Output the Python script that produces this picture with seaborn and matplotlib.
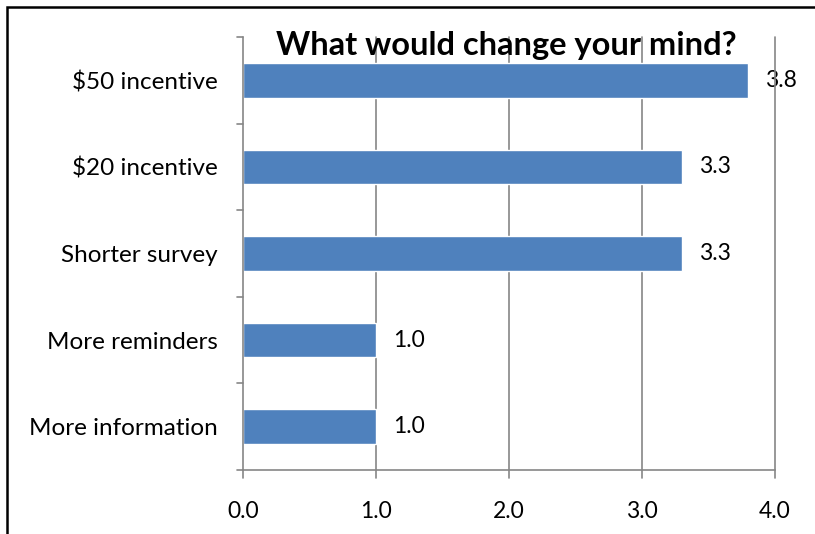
import matplotlib
matplotlib.use("Agg")
import matplotlib.pyplot as plt
import seaborn as sns
import pandas as pd
from matplotlib.patches import Rectangle

categories = ["$50 incentive", "$20 incentive", "Shorter survey", "More reminders", "More information"]
values = [3.8, 3.3, 3.3, 1.0, 1.0]
xticks = [0.0, 1.0, 2.0, 3.0, 4.0]
title = "What would change your mind?"

sns.set_style("white")
plt.rcParams['font.family'] = ['Lato', 'DejaVu Sans']
plt.rcParams['text.parse_math'] = False

df = pd.DataFrame({"cat": categories, "val": values})

fig = plt.figure(figsize=(8.15, 5.34), dpi=100)
ax = fig.add_axes([243/815, 64/534, (775-243)/815, (470-37)/534])

sns.barplot(data=df, x="val", y="cat", orient="h", color="#4F81BD",
            width=0.4, saturation=1, ax=ax, zorder=3)

axis_col = "#868686"
fs = 16.5
ax.set_xlim(0, 4)
ax.set_ylim(len(categories) - 0.5, -0.5)
ax.set_xticks(xticks)
ax.set_xticklabels([f"{t:.1f}" for t in xticks], fontsize=fs, color="black")
ax.set_yticks(range(len(categories)))
ax.set_yticklabels(categories, fontsize=17.5, color="black")
ax.tick_params(axis="y", length=0, pad=18)
ax.tick_params(axis="x", length=0, pad=22)
ax.set_xlabel("")
ax.set_ylabel("")

# gridlines (behind bars, over value labels)
for t in xticks[1:]:
    ax.axvline(t, color=axis_col, lw=1.2, zorder=2, ymin=-8/433, clip_on=False)
ax.axvline(0, color=axis_col, lw=1.2, zorder=4, ymin=-8/433, clip_on=False)
# category boundary ticks on y axis
for b in [i - 0.5 for i in range(len(categories) + 1)]:
    ax.plot([-6/133, 0], [b, b], color=axis_col, lw=1.2, clip_on=False, zorder=4)
for s in ["top", "right", "left"]:
    ax.spines[s].set_visible(False)
ax.spines["bottom"].set_color(axis_col)
ax.spines["bottom"].set_linewidth(1.2)
ax.spines["bottom"].set_zorder(4)

for i, v in enumerate(values):
    ax.annotate(f"{v:.1f}", xy=(v, i), xytext=(12, 0), textcoords="offset points",
                va="center", ha="left", fontsize=fs, color="black", zorder=1)

fig.text(506/815, 1 - 45/534, title, ha="center", va="center",
         fontsize=23.5, fontweight="bold", color="black", zorder=10)

fig.patches.append(Rectangle((7/815, -0.05), 1.2, 1 - 7/534 + 0.05,
                             transform=fig.transFigure, fill=False,
                             edgecolor="black", lw=1.8))

fig.savefig("out.png", dpi=100)
